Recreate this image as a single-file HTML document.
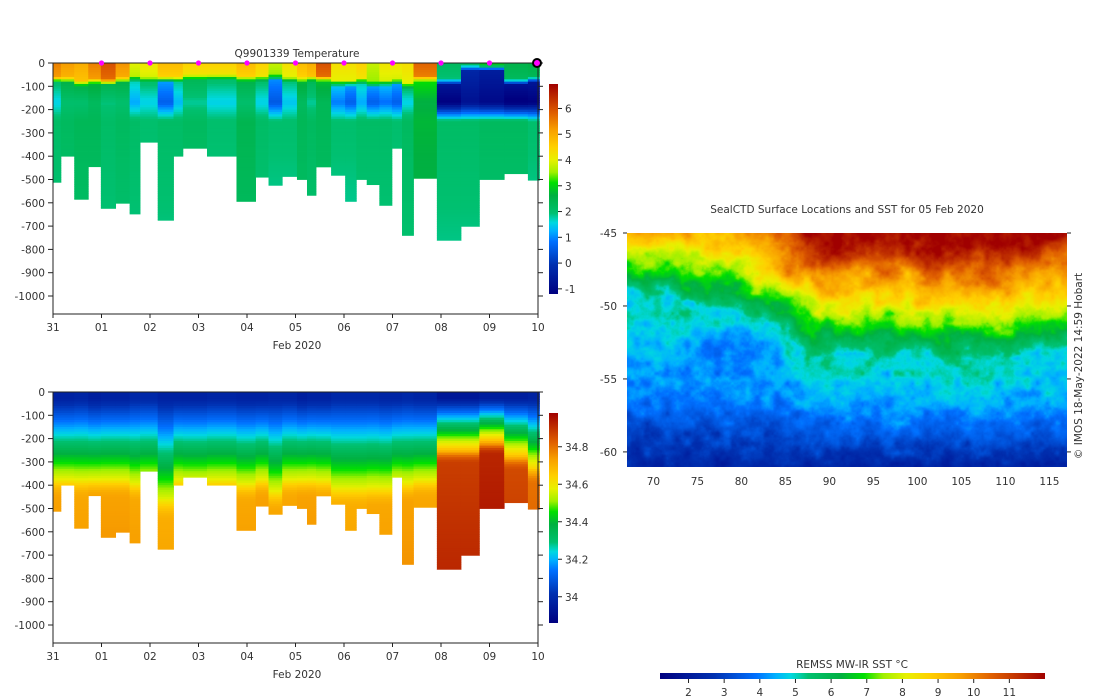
<!DOCTYPE html>
<html><head><meta charset="utf-8"><style>
body{margin:0;background:#fff;width:1100px;height:700px;overflow:hidden;font-family:"Liberation Sans","DejaVu Sans",sans-serif}
svg text{font-family:"DejaVu Sans","Liberation Sans",sans-serif;fill:#333;font-size:10.5px}
#map{position:absolute;left:627px;top:233px;width:440px;height:234px}
</style></head><body>
<svg id="fig" width="1100" height="700" style="position:absolute;left:0;top:0"></svg>
<canvas id="map" width="440" height="234"></canvas>
<script>
// ---- section data ----
const colBounds=[0,0.163,0.438,0.727,0.987,1.291,1.580,1.795,2.159,2.485,2.678,3.175,3.783,4.177,4.444,4.726,5.030,5.237,5.423,5.734,6.024,6.254,6.469,6.729,6.988,7.196,7.433,7.915,8.412,8.791,9.303,9.792,10.03];
const maxDepth=[512,400,585,445,624,602,648,340,675,400,366,400,594,490,525,487,500,568,446,482,594,500,522,611,366,740,495,761,701,500,475,503];
const surfT=[5.5,5.2,5,5.5,6,5.3,4,4.2,4.8,4.8,4.5,4.5,4.8,4.5,3.8,4.3,4.8,5,6,4.3,4.3,4.5,3.8,4.2,4.2,4.3,5.8,2.2,2.3,3,2.5,2.6];
const mixDepth=[60,60,75,65,70,60,55,60,60,60,50,50,55,55,50,60,60,55,55,75,75,65,80,75,70,85,55,70,10,10,70,60];
const minT=[1.5,2,2,2.2,1.9,2,1.2,1.5,0.6,1.3,1.8,1.5,2,1.5,0.5,1.4,2.2,1.8,2.3,0.9,0.6,1.2,0.6,0.8,0.6,1.5,2.6,-1.2,-0.8,-1,-1.3,-1.2];
const deepT=[2.1,2.2,2.3,2.3,2.1,2.2,2.1,2,2.1,2.1,2.2,2,2.4,2.1,2,2,2.3,2.2,2.3,2,2,2.1,2.1,2.1,2,2.2,2.7,2.1,2.1,2.2,2.2,2];
const surfS=[33.97,33.97,33.98,33.96,33.97,33.97,33.99,33.99,33.97,33.97,33.97,33.98,33.97,33.97,33.98,33.98,33.96,33.97,33.97,33.99,33.99,33.99,33.99,33.98,33.98,33.99,33.98,33.94,33.94,33.96,33.96,33.97];
const haloBottom=[460,460,460,460,460,460,480,460,560,460,460,460,480,460,520,460,460,460,460,500,500,500,500,500,460,480,460,310,310,270,340,400];
const deepS=[34.73,34.73,34.72,34.73,34.73,34.73,34.72,34.71,34.71,34.72,34.71,34.72,34.72,34.73,34.72,34.72,34.73,34.73,34.72,34.71,34.71,34.71,34.72,34.72,34.71,34.73,34.72,34.88,34.88,34.92,34.86,34.8];
const dayLabels=['31','01','02','03','04','05','06','07','08','09','10'];
const depthTicks=[0,-100,-200,-300,-400,-500,-600,-700,-800,-900,-1000];
const tempCbTicks=[-1,0,1,2,3,4,5,6];
const salCbTicks=[34,34.2,34.4,34.6,34.8];
const sstCbTicks=[2,3,4,5,6,7,8,9,10,11];
const lonTicks=[70,75,80,85,90,95,100,105,110,115];
const latTicks=[-45,-50,-55,-60];
const trackLon=[69.2,70.2,71,72,73,73.8,74.6,75.3,75.9,76.6,77.3,77.9,78.6,79.4,80.1,80.8,81.4,82.2];
const trackLat=[-49.3,-49.4,-49.35,-49.2,-49.3,-49.35,-49.35,-49.45,-49.7,-50.0,-50.3,-50.65,-50.85,-51.05,-51.25,-51.4,-51.6,-51.95];

const stops=[[0,[0,0,128]],[0.14,[0,48,176]],[0.25,[0,112,255]],[0.30,[0,176,255]],[0.34,[0,216,224]],[0.36,[0,208,176]],[0.385,[0,192,112]],[0.47,[0,176,64]],[0.53,[0,224,0]],[0.58,[160,240,0]],[0.64,[232,240,0]],[0.70,[255,208,0]],[0.78,[248,160,0]],[0.86,[224,96,0]],[0.93,[192,48,0]],[1,[160,0,0]]];
function cmap(f){f=Math.max(0,Math.min(1,f));for(let i=1;i<stops.length;i++){if(f<=stops[i][0]){const a=stops[i-1],b=stops[i],t=(f-a[0])/(b[0]-a[0]);return [0,1,2].map(k=>Math.round(a[1][k]+(b[1][k]-a[1][k])*t));}}return stops[stops.length-1][1];}
const rgb=c=>`rgb(${c[0]},${c[1]},${c[2]})`;
const NS='http://www.w3.org/2000/svg',fig=document.getElementById('fig');
function el(tag,attrs,parent){const e=document.createElementNS(NS,tag);for(const k in attrs)e.setAttribute(k,attrs[k]);(parent||fig).appendChild(e);return e;}
function txt(x,y,s,anchor,parent,extra){const t=el('text',Object.assign({x:x,y:y,'text-anchor':anchor||'middle'},extra||{}),parent);t.textContent=s;return t;}
const lerp=(a,b,t)=>a+(b-a)*Math.max(0,Math.min(1,t));
function Tprof(i,z){const m=mixDepth[i];if(z<m)return surfT[i]-0.3*z/m;if(z<m+25)return lerp(surfT[i]-0.3,minT[i]+0.5,(z-m)/25);if(z<170)return lerp(minT[i]+0.5,minT[i],(z-m-25)/(145-m));if(z<250)return lerp(minT[i],deepT[i],(z-170)/80);return deepT[i]-0.2*(z-250)/450;}
function Sprof(i,z){let t=(z-30)/(haloBottom[i]-30);t=Math.max(0,Math.min(1,t));const f=t<0.8?t:0.8+0.2*(1-Math.pow(1-(t-0.8)/0.2,2));return surfS[i]+(deepS[i]-surfS[i])*f+(z>haloBottom[i]?0.00008*(z-haloBottom[i]):0);}

const X0=53,X1=538;const xDay=d=>X0+d*(X1-X0)/10;
function section(y0,name,prof,vmin,vmax,cbTicks,cbName,title){
  const yD=z=>y0+z*0.233;
  const g=el('g',{});
  for(let i=0;i<maxDepth.length;i++){
    const col=el('g',{},g);
    
    
    const xa=xDay(colBounds[i]),xb=xDay(colBounds[i+1]);
    for(let z=0;z<maxDepth[i];z+=10){const v=prof(i,z+5);const h=Math.min(10,maxDepth[i]-z);
      el('rect',{x:xa.toFixed(2),y:yD(z).toFixed(2),width:(xb-xa+0.4).toFixed(2),height:(h*0.233+0.4).toFixed(2),fill:rgb(cmap((v-vmin)/(vmax-vmin)))},col);}
  }
  const yb=y0+251;
  el('path',{d:`M${X0},${y0}H${X1}V${yb}H${X0}Z`,fill:'none',stroke:'#222','stroke-width':1},g);
  depthTicks.forEach(d=>{const y=yD(-d);el('line',{x1:X0-5,x2:X0,y1:y,y2:y,stroke:'#222'},g);el('line',{x1:X1,x2:X1+5,y1:y,y2:y,stroke:'#222'},g);txt(X0-8,y+4,String(d),'end',g,{'font-size':'11px'});});
  dayLabels.forEach((l,k)=>{const x=xDay(k);el('line',{x1:x,x2:x,y1:yb,y2:yb+4,stroke:'#222'},g);txt(x,yb+17,l,'middle',g,{'font-size':'11px'});});
  txt(297,yb+35,'Feb 2020','middle',g,{'font-size':'11.5px'});
  if(title)txt(297,y0-6,title,'middle',g,{'font-size':'11.5px'});
  const cb=el('g',{});
  const id=cbName+'-grad';const lg=el('linearGradient',{id:id,x1:0,y1:1,x2:0,y2:0},el('defs',{},cb));
  stops.forEach(s=>el('stop',{offset:s[0],'stop-color':rgb(s[1])},lg));
  const ct=y0+21,cbot=y0+231;el('rect',{x:549,y:ct,width:9,height:cbot-ct,fill:`url(#${id})`},cb);
  cbTicks.forEach(v=>{const y=cbot-(v-vmin)/(vmax-vmin)*(cbot-ct);el('line',{x1:558,x2:562,y1:y,y2:y,stroke:'#222'},cb);txt(565,y+4,String(v),'start',cb,{'font-size':'11px'});});
  return g;
}
section(63,'temperature-section',Tprof,-1.2,6.95,tempCbTicks,'temperature-colorbar','Q9901339  Temperature');
section(392,'salinity-section',Sprof,33.86,34.98,salCbTicks,'salinity-colorbar',null);
const mk=el('g',{});
for(let k=1;k<=9;k++){el('circle',{cx:xDay(k),cy:63,r:2.6,fill:'#ff00ff'},mk);}
el('circle',{cx:xDay(10)-1,cy:63,r:4,fill:'#ff00ff',stroke:'#000','stroke-width':2},mk);

// ---- map ----
const LON0=67,LON1=117,LAT0=-45,LAT1=-61;
const mx=lon=>627+(lon-LON0)*(440/(LON1-LON0));
const my=lat=>233+(lat-LAT0)*(233.5/(LAT1-LAT0));
const frontPts=[[67,-47.3],[75,-47.6],[80,-48.2],[85,-49.8],[88,-51.5],[92,-51.3],[100,-51.3],[108,-51.5],[117,-50.8]];
function front(lon){for(let i=1;i<frontPts.length;i++)if(lon<=frontPts[i][0]){const a=frontPts[i-1],b=frontPts[i];return a[1]+(b[1]-a[1])*(lon-a[0])/(b[0]-a[0]);}return -50.8;}
function hash(x,y){let h=(x*374761393+y*668265263)|0;h=(h^(h>>>13))*1274126177|0;return ((h^(h>>>16))>>>0)/4294967295;}
function vnoise(x,y){const xi=Math.floor(x),yi=Math.floor(y),xf=x-xi,yf=y-yi;const u=xf*xf*(3-2*xf),v=yf*yf*(3-2*yf);
  const a=hash(xi,yi),b=hash(xi+1,yi),c=hash(xi,yi+1),d=hash(xi+1,yi+1);return a+(b-a)*u+(c-a)*v+(a-b-c+d)*u*v;}
function fbm(x,y){let s=0,amp=1,f=1,n=0;for(let o=0;o<5;o++){s+=amp*vnoise(x*f,y*f);n+=amp;amp*=0.5;f*=2;}return s/n-0.5;}
const cv=document.getElementById('map'),ctx=cv.getContext('2d'),img=ctx.createImageData(440,234);
for(let py=0;py<234;py++)for(let px=0;px<440;px++){
  const lon=LON0+px/440*(LON1-LON0),lat=LAT0+py/234*(LAT1-LAT0);
  const fr=front(lon+fbm(px/40,py/40)*4)-fbm(px/20+50,py/20)*2;
  const d=lat-fr;
  let T;
  if(d>=0)T=Math.min(11.8,7+0.85*d);
  else if(d>-2)T=7+1.0*d;
  else{const fs=fr-2,t=Math.max(0,Math.min(1,(fs-lat)/(fs+60.8)));T=5-2.6*Math.pow(t,1.7);}
  if(lon>72&&lon<86&&lat<-51&&lat>-55)T-=0.8*Math.sin((lon-72)/14*Math.PI)*Math.sin((lat+55)/4*Math.PI);
  T+=fbm(px/10+100,py/10+100)*1.4;
  const c=cmap((T-1.2)/10.8),k=(py*440+px)*4;img.data[k]=c[0];img.data[k+1]=c[1];img.data[k+2]=c[2];img.data[k+3]=255;}
ctx.putImageData(img,0,0);
const mg=el('g',{});
txt(847,213,'SealCTD Surface Locations and SST for 05 Feb 2020','middle',mg,{'font-size':'11px'});
lonTicks.forEach(l=>{const x=mx(l);el('line',{x1:x,x2:x,y1:233,y2:237,stroke:'#222'},mg);el('line',{x1:x,x2:x,y1:463,y2:467,stroke:'#222'},mg);txt(x,485,String(l),'middle',mg,{'font-size':'11px'});});
latTicks.forEach(l=>{const y=my(l);el('line',{x1:623,x2:627,y1:y,y2:y,stroke:'#222'},mg);el('line',{x1:1067,x2:1071,y1:y,y2:y,stroke:'#222'},mg);txt(617,y+4,String(l),'end',mg,{'font-size':'11px'});});
txt(0,0,'© IMOS 18-May-2022 14:59 Hobart','middle',mg,{transform:'translate(1082,366) rotate(-90)','font-size':'10px'});
const tr=el('g',{});
el('rect',{x:mx(68.6),y:my(-48.8),width:12,height:12,fill:'#f0c8a0'},tr);
el('rect',{x:mx(68.6)+2,y:my(-48.8)+2,width:6,height:6,fill:'#111'},tr);
for(let i=0;i<trackLon.length-1;i++){const a=i%2?'#ff00ff':'#111';el('circle',{cx:mx(trackLon[i]),cy:my(trackLat[i]),r:i%2?2:1.3,fill:a},tr);}
const n=trackLon.length-1;el('circle',{cx:mx(trackLon[n]),cy:my(trackLat[n]),r:4,fill:'#ff00ff',stroke:'#000','stroke-width':2},tr);
el('path',{d:`M${mx(73.2)},${my(-52.9)}l4,2l-4,1z`,fill:'#fff',stroke:'#000','stroke-width':0.5},tr);
const sb=el('g',{});
const lg2=el('linearGradient',{id:'sstg',x1:0,y1:0,x2:1,y2:0},el('defs',{},sb));
stops.forEach(s=>el('stop',{offset:s[0],'stop-color':rgb(s[1])},lg2));
el('rect',{x:660,y:673,width:385,height:6,fill:'url(#sstg)'},sb);
txt(852,668,'REMSS MW-IR SST °C','middle',sb);
sstCbTicks.forEach(v=>{const x=660+(v-1.2)/10.8*385;el('line',{x1:x,x2:x,y1:679,y2:683,stroke:'#222'},sb);txt(x,696,String(v),'middle',sb,{'font-size':'11px'});});
</script>
</body></html>
